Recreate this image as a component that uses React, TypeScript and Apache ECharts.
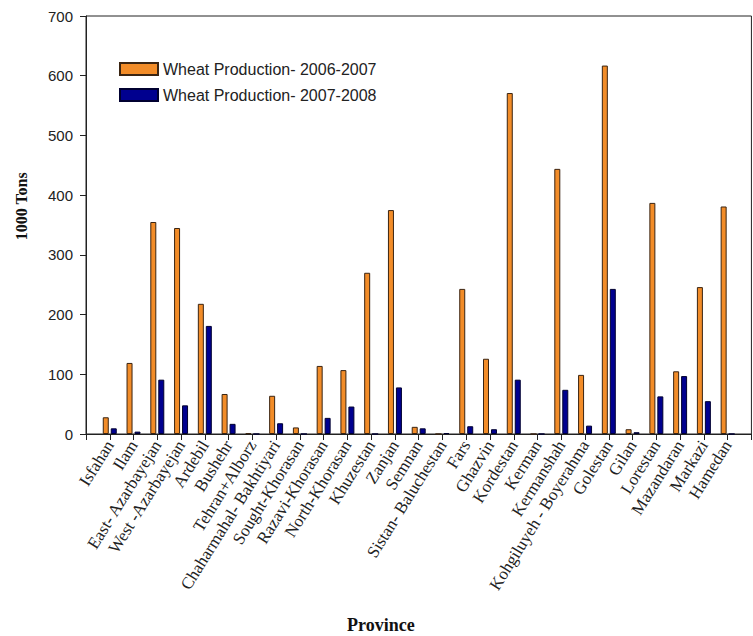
import React, { useEffect, useRef } from "react";
import * as echarts from "echarts";

const provinces = [
  "Isfahan", "Ilam", "East- Azarbayejan", "West -Azarbayejan", "Ardebil", "Bushehr",
  "Tehran+Alborz", "Chaharmahal- Bakhtiyari", "Sought-Khorasan", "Razavi-Khorasan",
  "North-Khorasan", "Khuzestan", "Zanjan", "Semnan", "Sistan- Baluchestan", "Fars",
  "Ghazvin", "Kordestan", "Kerman", "Kermanshah", "Kohgiluyeh - Boyerahma", "Golestan",
  "Gilan", "Lorestan", "Mazandaran", "Markazi", "Hamedan",
];

const wheat2006_2007 = [
  28, 119, 355, 345, 218, 67, 1.5, 64, 11, 114, 107, 270, 375, 12, 0, 243, 126, 571, 0,
  444, 99, 617, 8, 387, 105, 246, 381,
];

const wheat2007_2008 = [
  9.5, 4, 91, 48, 181, 17, 0, 18, 0, 27, 46, 0, 78, 9.5, 1.5, 13, 8, 91, 0, 74, 14, 243,
  3, 63, 97, 55, 0,
];

const yTicks = { min: 0, max: 700, interval: 100 };

export default function App() {
  const ref = useRef<HTMLDivElement>(null);

  useEffect(() => {
    if (!ref.current) return;
    const chart = echarts.init(ref.current, undefined, { renderer: "svg" });
    const cats = ["", ...provinces, ""];
    const pad = (arr: number[]) => [null, ...arr, null];
    chart.setOption({
      animation: false,
      backgroundColor: "#ffffff",
      grid: {
        left: 86,
        top: 16,
        right: -13,
        bottom: 202,
        show: true,
        borderColor: "#222",
        borderWidth: 1,
      },
      legend: {
        orient: "vertical",
        left: 114,
        top: 56,
        itemWidth: 38,
        itemHeight: 12,
        itemGap: 10,
        icon: "rect",
        textStyle: { fontFamily: "Liberation Sans", fontSize: 16, color: "#222" },
        data: ["Wheat Production- 2006-2007", "Wheat Production- 2007-2008"],
      },
      xAxis: {
        type: "category",
        data: cats,
        boundaryGap: false,
        axisLine: { lineStyle: { color: "#222", width: 1 } },
        axisTick: { show: true, length: 6, lineStyle: { color: "#222" }, interval: 0 },
        axisLabel: {
          interval: 0,
          rotate: 58,
          margin: 8,
          fontFamily: "Liberation Serif",
          fontSize: 17,
          color: "#222",
        },
        splitLine: { show: false },
      },
      yAxis: {
        type: "value",
        min: yTicks.min,
        max: yTicks.max,
        interval: yTicks.interval,
        axisLine: { show: true, lineStyle: { color: "#222", width: 1 } },
        axisTick: { show: true, length: 6, lineStyle: { color: "#222" } },
        axisLabel: {
          margin: 13,
          fontFamily: "Liberation Sans",
          fontSize: 15,
          color: "#222",
        },
        splitLine: { show: false },
      },
      graphic: [
        {
          type: "text",
          left: 13,
          top: 172,
          rotation: Math.PI / 2,
          style: {
            text: "1000 Tons",
            fontFamily: "Liberation Serif",
            fontWeight: "bold",
            fontSize: 16,
            fill: "#111",
          },
        },
        {
          type: "text",
          left: 347,
          top: 616,
          style: {
            text: "Province",
            fontFamily: "Liberation Serif",
            fontWeight: "bold",
            fontSize: 18,
            fill: "#111",
          },
        },
      ],
      series: [
        {
          name: "Wheat Production- 2006-2007",
          type: "bar",
          data: pad(wheat2006_2007),
          barWidth: 6,
          barGap: "33%",
          itemStyle: { color: "#F28C28", borderColor: "#3a2412", borderWidth: 1 },
        },
        {
          name: "Wheat Production- 2007-2008",
          type: "bar",
          data: pad(wheat2007_2008),
          barWidth: 6,
          barGap: "33%",
          itemStyle: { color: "#00008F", borderColor: "#000030", borderWidth: 1 },
        },
      ],
    });
    return () => chart.dispose();
  }, []);

  return (
    <div
      ref={ref}
      style={{ position: "fixed", left: 0, top: 0, width: 753, height: 636 }}
    />
  );
}
